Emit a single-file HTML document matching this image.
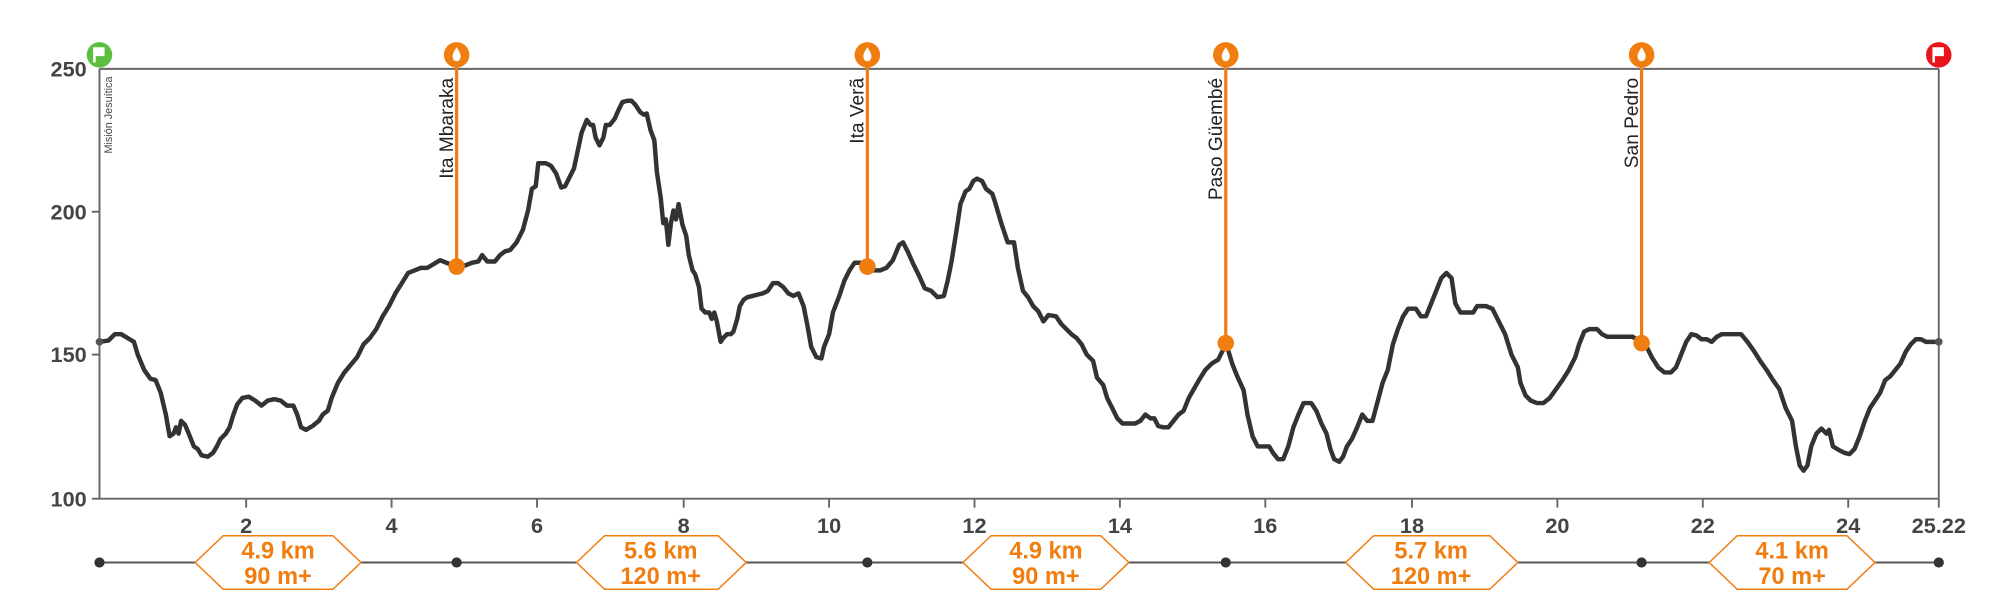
<!DOCTYPE html>
<html><head><style>html,body{margin:0;padding:0;background:#fff;}svg{display:block}</style></head><body>
<svg width="2000" height="600" viewBox="0 0 1568 470.4" xmlns="http://www.w3.org/2000/svg" font-family="Liberation Sans, sans-serif">
<g stroke="#666" stroke-width="1.5" fill="none">
<line x1="78" y1="54" x2="1520" y2="54"/>
<line x1="78" y1="391" x2="1520" y2="391"/>
<line x1="78" y1="54" x2="78" y2="391"/>
<line x1="1520" y1="54" x2="1520" y2="391"/>
<line x1="72" y1="166" x2="78" y2="166"/><line x1="72" y1="278" x2="78" y2="278"/><line x1="72" y1="391" x2="78" y2="391"/>
<line x1="193" y1="391" x2="193" y2="398"/><line x1="307" y1="391" x2="307" y2="398"/><line x1="421" y1="391" x2="421" y2="398"/><line x1="536" y1="391" x2="536" y2="398"/><line x1="650" y1="391" x2="650" y2="398"/><line x1="764" y1="391" x2="764" y2="398"/><line x1="878" y1="391" x2="878" y2="398"/><line x1="992" y1="391" x2="992" y2="398"/><line x1="1107" y1="391" x2="1107" y2="398"/><line x1="1221" y1="391" x2="1221" y2="398"/><line x1="1335" y1="391" x2="1335" y2="398"/><line x1="1449" y1="391" x2="1449" y2="398"/><line x1="1520" y1="391" x2="1520" y2="398"/>
</g>
<g fill="#444" font-size="17" font-weight="bold" text-anchor="end">
<text x="68" y="60">250</text><text x="68" y="172">200</text><text x="68" y="284">150</text><text x="68" y="397">100</text>
</g>
<g fill="#444" font-size="17" font-weight="bold" text-anchor="middle">
<text x="193" y="418">2</text><text x="307" y="418">4</text><text x="421" y="418">6</text><text x="536" y="418">8</text><text x="650" y="418">10</text><text x="764" y="418">12</text><text x="878" y="418">14</text><text x="992" y="418">16</text><text x="1107" y="418">18</text><text x="1221" y="418">20</text><text x="1335" y="418">22</text><text x="1449" y="418">24</text><text x="1520" y="418">25.22</text>
</g>
<polyline fill="none" stroke="#333" stroke-width="3.5" stroke-linejoin="round" points="78,268 85,267 90,262 95,262 100,265 105,268 108,278 113,290 118,297 122,298 126,308 130,325 133,342 136,340 138,335 140,340 142,330 145,333 148,340 152,350 155,352 158,357 163,358 167,355 170,350 173,344 177,340 180,335 183,325 186,317 190,312 195,311 200,314 205,318 210,314 215,313 220,314 225,318 230,318 233,325 236,335 240,337 245,334 250,330 253,325 257,322 260,312 265,300 270,292 275,286 280,280 285,270 290,265 295,258 300,248 305,240 310,230 315,222 320,214 325,212 330,210 335,210 340,207 345,204 350,206 355,208 358,210 365,208 370,206 375,205 378,200 382,205 388,205 392,200 396,197 400,196 405,190 410,180 414,165 417,148 420,146 422,128 428,128 432,130 436,136 440,147 443,146 446,140 450,132 453,118 456,104 460,94 463,98 465,98 467,108 470,114 473,108 475,98 478,98 482,93 485,86 488,80 492,79 495,79 498,82 502,88 505,90 507,89 510,102 513,110 515,135 518,155 520,175 522,172 524,192 526,175 528,165 530,172 532,160 535,176 538,185 540,200 543,212 545,215 548,225 550,242 553,245 556,245 558,250 560,245 562,252 565,268 567,265 570,262 573,262 575,260 578,250 580,240 583,235 586,233 590,232 594,231 598,230 602,228 606,222 610,222 614,225 618,230 622,232 626,230 630,240 633,255 636,272 640,280 644,281 646,272 650,262 653,245 658,232 662,220 666,212 670,206 675,206 680,210 685,212 690,212 695,210 700,204 705,192 708,190 712,198 716,207 720,215 725,226 730,228 735,233 740,232 743,220 746,205 750,180 753,160 757,150 760,148 763,142 766,140 770,142 773,148 778,152 780,158 785,175 790,190 795,190 798,210 802,228 806,233 810,240 814,244 818,252 822,247 828,248 832,254 836,258 840,262 844,265 848,270 852,278 857,283 860,296 865,302 868,312 872,320 876,328 880,332 885,332 890,332 894,330 898,325 902,328 905,328 908,334 912,335 916,335 920,330 924,325 928,322 932,312 936,305 940,298 945,290 950,285 955,282 960,272 963,275 966,285 970,295 975,306 978,325 982,342 986,350 990,350 995,350 998,355 1002,360 1006,360 1010,350 1014,335 1018,325 1022,316 1028,316 1032,322 1036,332 1040,340 1043,352 1046,360 1050,362 1053,358 1056,350 1060,344 1064,335 1068,325 1072,330 1076,330 1080,315 1084,300 1088,290 1092,270 1096,258 1100,248 1104,242 1110,242 1114,248 1118,248 1122,238 1126,228 1130,218 1134,214 1138,218 1141,238 1145,245 1150,245 1155,245 1158,240 1165,240 1170,242 1175,252 1180,262 1185,278 1190,288 1192,300 1196,310 1200,314 1205,316 1210,316 1215,312 1220,305 1225,298 1230,290 1235,280 1238,270 1242,260 1246,258 1252,258 1256,262 1260,264 1270,264 1280,264 1286,268 1290,270 1295,280 1300,288 1305,292 1310,292 1314,288 1318,278 1322,268 1326,262 1330,263 1334,266 1338,266 1342,268 1346,264 1350,262 1358,262 1365,262 1370,268 1375,275 1380,283 1385,290 1390,298 1395,305 1400,320 1405,330 1408,350 1411,365 1414,369 1417,365 1420,350 1424,340 1428,336 1432,340 1434,337 1437,350 1442,353 1446,355 1450,356 1454,352 1458,342 1462,330 1466,320 1470,314 1474,308 1478,298 1482,295 1486,290 1490,285 1494,276 1498,270 1502,266 1506,266 1510,268 1516,268 1520,268"/>
<circle cx="78" cy="268" r="3" fill="#555"/><circle cx="1520" cy="268" r="3" fill="#555"/>
<g stroke="#f07d10" stroke-width="2.5">
<line x1="358" y1="43" x2="358" y2="209"/><line x1="680" y1="43" x2="680" y2="209"/><line x1="961" y1="43" x2="961" y2="269"/><line x1="1287" y1="43" x2="1287" y2="269"/>
</g>
<g fill="#f07d10">
<circle cx="358" cy="209" r="6.5"/><circle cx="680" cy="209" r="6.5"/><circle cx="961" cy="269" r="6.5"/><circle cx="1287" cy="269" r="6.5"/>
<circle cx="358" cy="43" r="10"/><circle cx="680" cy="43" r="10"/><circle cx="961" cy="43" r="10"/><circle cx="1287" cy="43" r="10"/>
</g>
<g fill="#fff">
<path d="M358,37 q4,6 3,8 a3,3 0 0 1 -6,0 q-1,-2 3,-8z"/><path d="M680,37 q4,6 3,8 a3,3 0 0 1 -6,0 q-1,-2 3,-8z"/><path d="M961,37 q4,6 3,8 a3,3 0 0 1 -6,0 q-1,-2 3,-8z"/><path d="M1287,37 q4,6 3,8 a3,3 0 0 1 -6,0 q-1,-2 3,-8z"/>
</g>
<circle cx="78" cy="43" r="10" fill="#5bbf3f"/><path d="M73,37 h9 v7 h-7 v5 h-2z" fill="#fff"/>
<circle cx="1520" cy="43" r="10" fill="#e8141b"/><path d="M1515,37 h9 v7 h-7 v5 h-2z" fill="#fff"/>
<g fill="#222" font-size="15" text-anchor="end">
<text transform="translate(355,61) rotate(-90)">Ita Mbaraka</text>
<text transform="translate(677,61) rotate(-90)">Ita Verã</text>
<text transform="translate(958,61) rotate(-90)">Paso Güembé</text>
<text transform="translate(1284,61) rotate(-90)">San Pedro</text>
<text transform="translate(88,60) rotate(-90)" font-size="8.5" fill="#444">Misión Jesuítica</text>
</g>
<line x1="78" y1="441" x2="1520" y2="441" stroke="#555" stroke-width="1.5"/>
<g fill="#333"><circle cx="78" cy="441" r="4"/><circle cx="358" cy="441" r="4"/><circle cx="680" cy="441" r="4"/><circle cx="961" cy="441" r="4"/><circle cx="1287" cy="441" r="4"/><circle cx="1520" cy="441" r="4"/></g>
<g fill="#fff" stroke="#f07d10" stroke-width="1.2">
<polygon points="153,441 175,420 261,420 283,441 261,462 175,462"/>
<polygon points="452,441 474,420 563,420 585,441 563,462 474,462"/>
<polygon points="755,441 777,420 863,420 885,441 863,462 777,462"/>
<polygon points="1055,441 1077,420 1168,420 1190,441 1168,462 1077,462"/>
<polygon points="1340,441 1362,420 1448,420 1470,441 1448,462 1362,462"/>
</g>
<g fill="#f07d10" font-size="18.5" font-weight="bold" text-anchor="middle">
<text x="218" y="438">4.9 km</text><text x="218" y="458">90 m+</text>
<text x="518" y="438">5.6 km</text><text x="518" y="458">120 m+</text>
<text x="820" y="438">4.9 km</text><text x="820" y="458">90 m+</text>
<text x="1122" y="438">5.7 km</text><text x="1122" y="458">120 m+</text>
<text x="1405" y="438">4.1 km</text><text x="1405" y="458">70 m+</text>
</g>
</svg>
</body></html>
